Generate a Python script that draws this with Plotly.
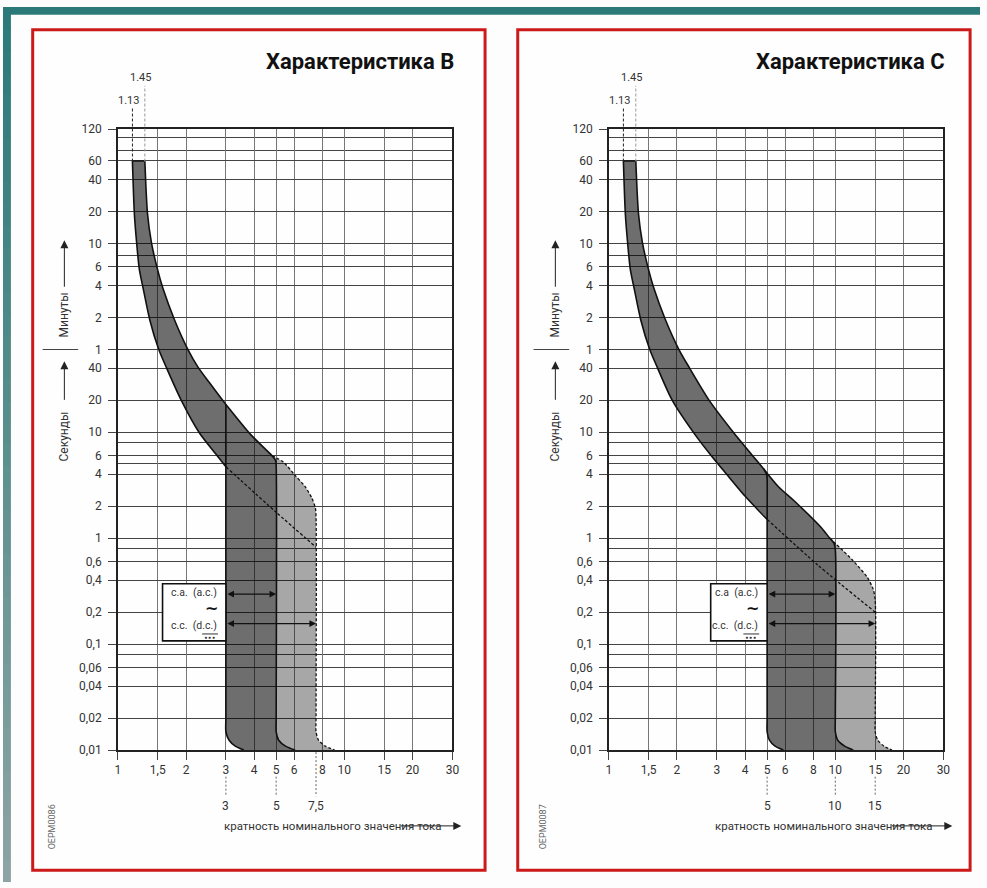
import numpy as np
import plotly.graph_objects as go

W, H = 987, 888

# ---------------- data (x = multiple of rated current, t = seconds) ----------------
X_TICKS = [1, 1.5, 2, 3, 4, 5, 6, 8, 10, 15, 20, 30]
X_TICK_TEXT = ["1", "1,5", "2", "3", "4", "5", "6", "8", "10", "15", "20", "30"]
Y_TICKS_S = [7200, 3600, 2400, 1200, 600, 360, 240, 120, 60, 40, 20, 10, 6, 4, 2, 1,
             0.6, 0.4, 0.2, 0.1, 0.06, 0.04, 0.02, 0.01]
Y_TICK_TEXT = ["120", "60", "40", "20", "10", "6", "4", "2", "1", "40", "20", "10", "6", "4",
               "2", "1", "0,6", "0,4", "0,2", "0,1", "0,06", "0,04", "0,02", "0,01"]
Y_EXTRA_GRID_S = [6000, 4500, 460, 8, 5, 0.8, 0.08]

# Characteristic B
B_TH_MIN_X = [1.16, 1.183, 1.211, 1.244, 1.295, 1.384, 1.515, 1.637, 1.904, 2.289, 2.709, 3.0]
B_TH_MIN_T = [3600, 1151, 607, 344, 224, 114, 60.3, 40.7, 20.0, 9.85, 6.2, 4.7]
B_TH_MAX_X = [1.316, 1.352, 1.408, 1.496, 1.584, 1.780, 2.037, 2.263, 2.550, 2.897, 3.0, 3.852, 4.48, 4.79]
B_TH_MAX_T = [3600, 1151, 607, 344, 224, 114, 60.3, 40.7, 28.8, 20.0, 18.2, 9.5, 6.9, 5.98]
B_AC_MIN_X = [3.0, 3.0, 3.0, 3.0, 3.1, 3.3, 3.6]
B_AC_MIN_T = [18.2, 4.3, 0.02, 0.0149, 0.0124, 0.0109, 0.01]
B_AC_MAX_X = [4.97, 5.0, 5.0, 5.0, 5.13, 5.5, 6.06]
B_AC_MAX_T = [5.4, 4.9, 0.02, 0.0149, 0.0124, 0.0109, 0.01]
B_DC_MAX_X = [5.37, 6.06, 6.70, 7.19, 7.45, 7.5, 7.5, 7.5, 7.69, 8.25, 9.06]
B_DC_MAX_T = [5.23, 3.9, 3.07, 2.38, 1.92, 1.6, 0.02, 0.0149, 0.0124, 0.0109, 0.01]
B_DC_MIN_X = [3.0, 5.0, 7.5]
B_DC_MIN_T = [4.7, 1.75, 0.82]
B_MARKS = [3, 5, 7.5]
B_MARK_TEXT = ["3", "5", "7,5"]
B_ARROWS = [(3, 5), (3, 7.5)]

# Characteristic C
C_TH_MIN_X = [1.16, 1.183, 1.211, 1.244, 1.295, 1.384, 1.515, 1.637, 1.904, 2.425, 2.87, 3.39, 4.01, 5.0]
C_TH_MIN_T = [3600, 1151, 607, 344, 224, 114, 60.3, 40.7, 20.0, 9.2, 5.78, 3.77, 2.46, 1.5]
C_TH_MAX_X = [1.316, 1.352, 1.408, 1.496, 1.584, 1.780, 2.037, 2.263, 2.77, 3.56, 4.82, 5.61, 6.63, 8.68, 9.44]
C_TH_MAX_T = [3600, 1151, 607, 344, 224, 114, 60.3, 40.7, 20.0, 9.85, 4.5, 3.05, 2.21, 1.25, 1.0]
C_AC_MIN_X = [4.82, 4.97, 5.0, 5.0, 5.0, 5.0, 5.12, 5.42, 5.9]
C_AC_MIN_T = [4.5, 4.0, 3.6, 1.3, 0.02, 0.0149, 0.0124, 0.0109, 0.01]
C_AC_MAX_X = [9.85, 10.0, 10.0, 10.0, 10.25, 11.0, 12.0]
C_AC_MAX_T = [0.9, 0.78, 0.02, 0.0149, 0.0124, 0.0109, 0.01]
C_DC_MAX_X = [11.9, 13.8, 14.7, 15.0, 15.0, 15.0, 15.4, 16.4, 17.8]
C_DC_MAX_T = [0.62, 0.43, 0.33, 0.26, 0.02, 0.0149, 0.0124, 0.0109, 0.01]
C_DC_MIN_X = [5.0, 8.36, 15.0]
C_DC_MIN_T = [1.5, 0.557, 0.2]
C_MARKS = [5, 10, 15]
C_MARK_TEXT = ["5", "10", "15"]
C_ARROWS = [(5, 10), (5, 15)]
ARROW_T = [0.296, 0.156]

TOP_LABELS = ["1.13", "1.45"]

# ---------------- styling ----------------
FONT = "Roboto, Liberation Sans, Arial, sans-serif"
TXT = "#333333"
DARK = "rgba(0,0,0,0.57)"
LIGHT = "rgba(0,0,0,0.34)"
SMOOTH = 0.7
X_L, X_R = 116, 454      # pixel extents of plot area (left panel)
Y_T, Y_B = 124, 755
DXP = 496                # shift of right plot


def PX(x):
    return x / W


def PY(y):
    return 1 - y / H


def xpix(v, dx):
    return X_L + dx + np.log10(v) / np.log10(30) * (X_R - X_L)


def ann(**kw):
    d = dict(showarrow=False, xanchor="center", yanchor="middle")
    d.update(kw)
    return d


fig = go.Figure()
shapes, annotations = [], []

# page decoration
shapes.append(dict(type="rect", xref="paper", yref="paper", x0=0, x1=1, y0=PY(0), y1=PY(8),
                   fillcolor="#2b7a79", line_width=0, layer="below"))
N = 40
c0, c1 = np.array([43, 122, 121]), np.array([140, 165, 164])
for i in range(N):
    c = c0 + (c1 - c0) * i / (N - 1)
    shapes.append(dict(type="rect", xref="paper", yref="paper", x0=0, x1=PX(8),
                       y0=PY(i * H / N), y1=PY((i + 1) * H / N + 1),
                       fillcolor="rgb(%d,%d,%d)" % tuple(c), line_width=0, layer="below"))
for bx0, bx1 in [(30, 487), (520, 977)]:
    shapes.append(dict(type="rect", xref="paper", yref="paper", x0=PX(bx0), x1=PX(bx1),
                       y0=PY(877), y1=PY(23), line=dict(color="#cc1a1a", width=3),
                       fillcolor="#fefefe", layer="below"))

panels = [
    dict(xa="x", ya="y", dx=0, title="Характеристика B", code="OEPM0086", ac="c.a.  (a.c.)",
         thmin=(B_TH_MIN_X, B_TH_MIN_T), thmax=(B_TH_MAX_X, B_TH_MAX_T),
         acmin=(B_AC_MIN_X, B_AC_MIN_T), acmax=(B_AC_MAX_X, B_AC_MAX_T),
         dcmax=(B_DC_MAX_X, B_DC_MAX_T), dcmin=(B_DC_MIN_X, B_DC_MIN_T),
         marks=B_MARKS, marktext=B_MARK_TEXT, arrows=B_ARROWS, boxw=64),
    dict(xa="x2", ya="y2", dx=DXP, title="Характеристика C", code="OEPM0087", ac="c.a  (a.c.)",
         thmin=(C_TH_MIN_X, C_TH_MIN_T), thmax=(C_TH_MAX_X, C_TH_MAX_T),
         acmin=(C_AC_MIN_X, C_AC_MIN_T), acmax=(C_AC_MAX_X, C_AC_MAX_T),
         dcmax=(C_DC_MAX_X, C_DC_MAX_T), dcmin=(C_DC_MIN_X, C_DC_MIN_T),
         marks=C_MARKS, marktext=C_MARK_TEXT, arrows=C_ARROWS, boxw=57),
]


def line_trace(x, y, xa, ya, width=1.6, dash=None, shape="spline"):
    ln = dict(color="#111", width=width, shape=shape)
    if shape == "spline":
        ln["smoothing"] = SMOOTH
    if dash:
        ln["dash"] = dash
    return go.Scatter(x=x, y=y, xaxis=xa, yaxis=ya, mode="lines", line=ln, hoverinfo="skip")


for p in panels:
    xa, ya, dx = p["xa"], p["ya"], p["dx"]
    tnx, tnt = p["thmin"]
    txx, txt_ = p["thmax"]
    anx, ant = p["acmin"]
    axx, axt = p["acmax"]
    dxx, dxt = p["dcmax"]
    dnx, dnt = p["dcmin"]

    # filled regions
    keep = [i for i, t in enumerate(ant) if t < tnt[-1]]
    dark_x = list(tnx) + [anx[i] for i in keep] + axx[::-1] + txx[::-1]
    dark_t = list(tnt) + [ant[i] for i in keep] + axt[::-1] + txt_[::-1]
    light_x = [txx[-1]] + dxx + axx[::-1]
    light_t = [txt_[-1]] + dxt + axt[::-1]
    for fx, ft, fc in [(dark_x, dark_t, DARK), (light_x, light_t, LIGHT)]:
        fig.add_trace(go.Scatter(x=fx, y=ft, xaxis=xa, yaxis=ya, mode="lines", fill="toself",
                                 fillcolor=fc, line=dict(width=0, shape="spline", smoothing=SMOOTH),
                                 hoverinfo="skip"))
    # boundary lines
    fig.add_trace(line_trace(tnx, tnt, xa, ya))
    fig.add_trace(line_trace([tnx[0], txx[0]], [tnt[0], txt_[0]], xa, ya, shape="linear"))
    fig.add_trace(line_trace(txx + axx, txt_ + axt, xa, ya))
    fig.add_trace(line_trace(anx, ant, xa, ya))
    fig.add_trace(line_trace(dnx, dnt, xa, ya, width=1.3, dash="3px,2px"))
    fig.add_trace(line_trace([txx[-1]] + dxx, [txt_[-1]] + dxt, xa, ya, width=1.3, dash="3px,2px"))

    # 1.13 / 1.45 markers above the plot
    for k, (xv, ytop, col) in enumerate([(tnx[0], 103, "#222"), (txx[0], 80, "#999")]):
        shapes.append(dict(type="line", xref=xa, yref="paper", x0=xv, x1=xv, y0=PY(157), y1=PY(ytop),
                           line=dict(color=col, width=1, dash="3px,2px")))
        annotations.append(ann(xref=xa, yref="paper", x=np.log10(xv), y=PY(ytop - 8), text=TOP_LABELS[k],
                               xshift=-4, font=dict(size=11, color=TXT, family=FONT)))

    # marks below x axis
    for mv, mt in zip(p["marks"], p["marktext"]):
        y0 = 782 if mv in X_TICKS else 757
        shapes.append(dict(type="line", xref=xa, yref="paper", x0=mv, x1=mv, y0=PY(y0), y1=PY(802),
                           line=dict(color="#666", width=1, dash="2px,2px")))
        annotations.append(ann(xref=xa, yref="paper", x=np.log10(mv), y=PY(812), text=mt,
                               font=dict(size=12, color=TXT, family=FONT)))

    # a.c. / d.c. arrows
    for (a0, a1), ta in zip(p["arrows"], ARROW_T):
        annotations.append(dict(xref=xa, yref=ya, axref=xa, ayref=ya, x=np.log10(a1), y=np.log10(ta),
                                ax=np.log10(a0), ay=np.log10(ta), text="", showarrow=True,
                                arrowside="end+start", arrowhead=2, arrowsize=1.1, arrowwidth=1.2,
                                arrowcolor="#111", standoff=0, startstandoff=0))

    # legend box
    xr = xpix(p["marks"][0], dx)
    xl = xr - p["boxw"]
    shapes.append(dict(type="rect", xref="paper", yref="paper", x0=PX(xl), x1=PX(xr), y0=PY(644), y1=PY(586),
                       fillcolor="white", line=dict(color="#111", width=1.6)))
    annotations.append(ann(xref="paper", yref="paper", x=PX(xr - 7), y=PY(595), xanchor="right",
                           text=p["ac"], font=dict(size=10.5, color=TXT, family=FONT)))
    annotations.append(ann(xref="paper", yref="paper", x=PX(xr - 15), y=PY(611), text="<b>~</b>",
                           font=dict(size=16, color="#111", family="DejaVu Sans")))
    annotations.append(ann(xref="paper", yref="paper", x=PX(xr - 7), y=PY(628), xanchor="right",
                           text="c.c.  (d.c.)", font=dict(size=10.5, color=TXT, family=FONT)))
    shapes.append(dict(type="line", xref="paper", yref="paper", x0=PX(xr - 24), x1=PX(xr - 8),
                       y0=PY(637), y1=PY(637), line=dict(color="#333", width=1)))
    annotations.append(ann(xref="paper", yref="paper", x=PX(xr - 16), y=PY(640.5), text="<b>•••</b>",
                           font=dict(size=6, color="#333", family="DejaVu Sans")))

    # title and side texts
    annotations.append(ann(xref="paper", yref="paper", x=PX(458 + dx), y=PY(55), xanchor="right",
                           text="<b>" + p["title"] + "</b>", font=dict(size=22, color="#111", family=FONT)))
    annotations.append(ann(xref="paper", yref="paper", x=PX(221 + dx), y=PY(832), xanchor="left",
                           text="кратность номинального значения тока",
                           font=dict(size=11.5, color=TXT, family=FONT)))
    annotations.append(dict(xref="paper", yref="paper", x=PX(463 + dx), y=PY(832), text="",
                            showarrow=True, ax=-62, ay=0, arrowhead=2, arrowsize=1.6, arrowwidth=1,
                            arrowcolor="#222", standoff=0))
    annotations.append(ann(xref="paper", yref="paper", x=PX(62 + dx), y=PY(313), text="Минуты",
                           textangle=-90, font=dict(size=12, color=TXT, family=FONT)))
    annotations.append(dict(xref="paper", yref="paper", x=PX(62 + dx), y=PY(237), text="",
                            showarrow=True, ax=0, ay=48, arrowhead=2, arrowsize=1.6, arrowwidth=1,
                            arrowcolor="#222", standoff=0))
    annotations.append(ann(xref="paper", yref="paper", x=PX(62 + dx), y=PY(436), text="Секунды",
                           textangle=-90, font=dict(size=12, color=TXT, family=FONT)))
    annotations.append(dict(xref="paper", yref="paper", x=PX(62 + dx), y=PY(360), text="",
                            showarrow=True, ax=0, ay=40, arrowhead=2, arrowsize=1.6, arrowwidth=1,
                            arrowcolor="#222", standoff=0))
    shapes.append(dict(type="line", xref="paper", yref="paper", x0=PX(40 + dx), x1=PX(76 + dx),
                       y0=PY(348), y1=PY(348), line=dict(color="#444", width=1)))
    annotations.append(ann(xref="paper", yref="paper", x=PX(49 + dx), y=PY(833), text=p["code"],
                           textangle=-90, font=dict(size=9, color="#666", family=FONT)))

xaxis_common = dict(type="log", range=[0, np.log10(30)], tickmode="array", tickvals=X_TICKS,
                    ticktext=X_TICK_TEXT, ticks="outside", ticklen=8, tickcolor="#444",
                    showgrid=True, gridcolor="#777", gridwidth=1, showline=True, linecolor="#222",
                    linewidth=1.5, mirror=True, zeroline=False, layer="above traces",
                    tickfont=dict(size=12, color=TXT, family=FONT), fixedrange=True)
yaxis_common = dict(type="log", range=[-2, np.log10(7200)], tickmode="array", tickvals=Y_TICKS_S,
                    ticktext=Y_TICK_TEXT, ticks="outside", ticklen=8, tickcolor="#444",
                    showgrid=True, gridcolor="#444", gridwidth=1, showline=True, linecolor="#222",
                    linewidth=1.5, mirror=True, zeroline=False, layer="above traces",
                    ticklabelstandoff=4,
                    minor=dict(tickmode="array", tickvals=Y_EXTRA_GRID_S, showgrid=True,
                               gridcolor="#444", gridwidth=1, ticks=""),
                    tickfont=dict(size=12, color=TXT, family=FONT), fixedrange=True,
                    domain=[PY(Y_B), PY(Y_T)])

fig.update_layout(
    width=W, height=H, margin=dict(l=0, r=0, t=0, b=0), autosize=False,
    paper_bgcolor="#fdfdfd", plot_bgcolor="white", showlegend=False,
    xaxis=dict(xaxis_common, domain=[PX(X_L), PX(X_R)], anchor="y"),
    yaxis=dict(yaxis_common, anchor="x"),
    xaxis2=dict(xaxis_common, domain=[PX(X_L + DXP), PX(X_R + DXP)], anchor="y2"),
    yaxis2=dict(yaxis_common, anchor="x2"),
    shapes=shapes, annotations=annotations,
)

POST = ("document.documentElement.style.margin='0';document.documentElement.style.padding='0';"
        "document.body.style.margin='0';document.body.style.padding='0';")
fig.write_html("out.html", config={"displayModeBar": False}, post_script=POST)
